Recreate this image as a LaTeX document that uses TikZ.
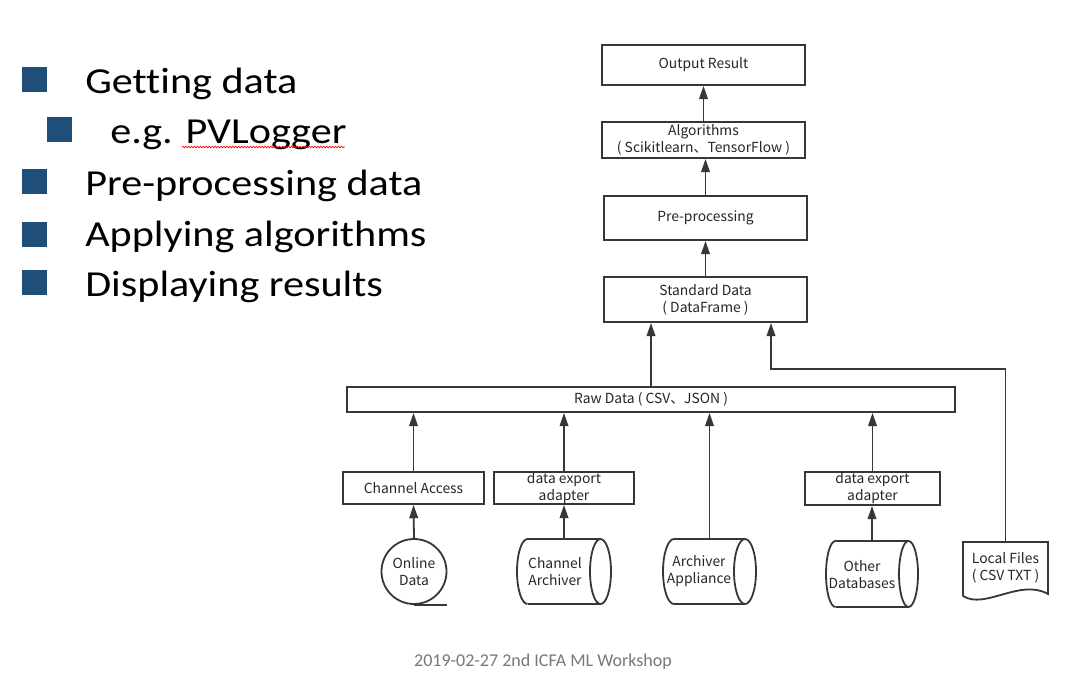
\documentclass[tikz,border=0pt]{standalone}
\usepackage{fontspec}
\setmainfont{Carlito}[Ligatures=NoCommon]
\newfontfamily\cjk{Noto Sans CJK SC}
\usetikzlibrary{arrows.meta,decorations.pathmorphing}
\definecolor{ln}{RGB}{55,55,55}
\definecolor{bul}{RGB}{31,78,121}
\definecolor{foot}{RGB}{120,120,120}
\begin{document}
\begin{tikzpicture}[x=0.75pt,y=-0.75pt]
\tikzset{
  lbl/.style={font=\cjk\fontsize{10.4}{12.8}\selectfont, text=black!85, align=center, inner sep=0pt},
  box/.style={draw=ln, line width=1.35pt, lbl},
  arr/.style={draw=ln, line width=1.35pt, -{Triangle[width=6.5pt,length=10pt]}},
  shp/.style={draw=ln, line width=1.35pt},
  hold/.style={draw=none, inner sep=0pt},
  bullet/.style={fill=bul, draw=none, minimum size=18.75pt, inner sep=0pt},
  btxt/.style={font=\fontsize{27.5}{32}\selectfont, anchor=base west, inner sep=0pt, xscale=1.15, transform shape},
}
\useasboundingbox (0,0) rectangle (1073,678);
\fill[white] (0,0) rectangle (1073,678);

% bullets
\node[bullet] (b1) at (34.5,79) {};
\node[bullet] (b2) at (59.5,129.5) {};
\node[bullet] (b3) at (34.5,181.5) {};
\node[bullet] (b4) at (34.5,234) {};
\node[bullet] (b5) at (34.5,282.5) {};
\node[btxt] (t1) at (85,93) {Getting data};
\node[btxt] (t2) at (110,143) {e.g. PVLogger};
\node[btxt] (t3) at (85,195) {Pre-processing data};
\node[btxt] (t4) at (85,246) {Applying algorithms};
\node[btxt] (t5) at (85,296) {Displaying results};
\draw[red, line width=0.5pt, decorate, decoration={snake, amplitude=0.6pt, segment length=2.2pt}] (182,147) -- (345,147);

% upper chain
\node[box, minimum width=152.25pt, minimum height=30pt] (out) at (703.5,65) {Output Result};
\node[box, minimum width=152.25pt, minimum height=27pt] (alg) at (703.5,140) {Algorithms\\( Scikitlearn、TensorFlow )};
\node[box, minimum width=152.25pt, minimum height=33pt] (pre) at (705.5,218) {Pre-processing};
\node[box, minimum width=152.25pt, minimum height=33.75pt] (std) at (705.5,299.5) {Standard Data\\( DataFrame )};
\node[box, minimum width=456pt, minimum height=18.75pt] (raw) at (651,399.5) {Raw Data ( CSV、JSON )};

\draw[arr] (alg.north) -- (out.south);
\draw[arr] (pre.north) -- (pre.north |- alg.south);
\draw[arr] (std.north) -- (pre.south);
\draw[arr] (raw.north) -- (raw.north |- std.south);

% adapters
\node[box, minimum width=105.75pt, minimum height=24pt] (ca) at (413.5,488) {Channel Access};
\node[box, minimum width=105pt, minimum height=24pt] (dea1) at (564,488) {data export\\adapter};
\node[box, minimum width=101.25pt, minimum height=24.75pt] (dea2) at (872.5,488.5) {data export\\adapter};

% sources
\node[draw=ln, line width=1.35pt, circle, minimum size=48.75pt, lbl] (online) at (414,571.5) {Online\\Data};
\draw[shp] (online.south) -- ++(33,0);

% Channel Archiver cylinder
\draw[shp] (527.5,604) arc[start angle=270,end angle=90,x radius=7.875pt,y radius=24.375pt] -- (600.5,539);
\draw[shp] (527.5,604) -- (600.5,604);
\draw[shp] (600.5,571.5) ellipse[x radius=7.875pt,y radius=24.375pt];
\node[hold, minimum width=70.5pt, minimum height=48.75pt] (charch) at (564,571.5) {};
\node[lbl] (charchT) at (555,571.5) {Channel\\Archiver};

% Archiver Appliance cylinder
\draw[shp] (674,604) arc[start angle=270,end angle=90,x radius=8.25pt,y radius=24.375pt] -- (745,539);
\draw[shp] (674,604) -- (745,604);
\draw[shp] (745,571.5) ellipse[x radius=8.25pt,y radius=24.375pt];
\node[hold, minimum width=69.75pt, minimum height=48.75pt] (aa) at (709.5,571.5) {};
\node[lbl] (aaT) at (699,571.5) {Archiver\\Appliance};

% Other Databases cylinder
\draw[shp] (835.5,607) arc[start angle=270,end angle=90,x radius=7.125pt,y radius=24.75pt] -- (908.5,541);
\draw[shp] (835.5,607) -- (908.5,607);
\draw[shp] (908.5,574) ellipse[x radius=7.125pt,y radius=24.75pt];
\node[hold, minimum width=69pt, minimum height=49.5pt] (odb) at (872,574) {};
\node[lbl] (odbT) at (862,575) {Other\\Databases};

% Local Files document
\draw[shp] (963,596) -- (963,542) -- (1048,542) -- (1048,594) .. controls (1020,578) and (985,610) .. (963,596);
\node[hold, minimum width=63.75pt, minimum height=39pt, lbl] (local) at (1005.5,568) {Local Files\\( CSV TXT )};

% connectors lower
\draw[arr] (online.north) -- (ca.south);
\draw[arr] (charch.north) -- (dea1.south);
\draw[arr] (odb.north) -- (odb.north |- dea2.south);
\draw[arr] (ca.north) -- (ca.north |- raw.south);
\draw[arr] (dea1.north) -- (dea1.north |- raw.south);
\draw[arr] (aa.north) -- (aa.north |- raw.south);
\draw[arr] (dea2.north) -- (dea2.north |- raw.south);
\coordinate (bend) at (771,369);
\draw[arr] (local.north) |- (bend) -- (bend |- std.south);

% footer
\node[font=\fontsize{13.5}{16}\selectfont, text=foot, inner sep=0pt] (footer) at (543,662) {2019-02-27 2nd ICFA ML Workshop};
\end{tikzpicture}
\end{document}
